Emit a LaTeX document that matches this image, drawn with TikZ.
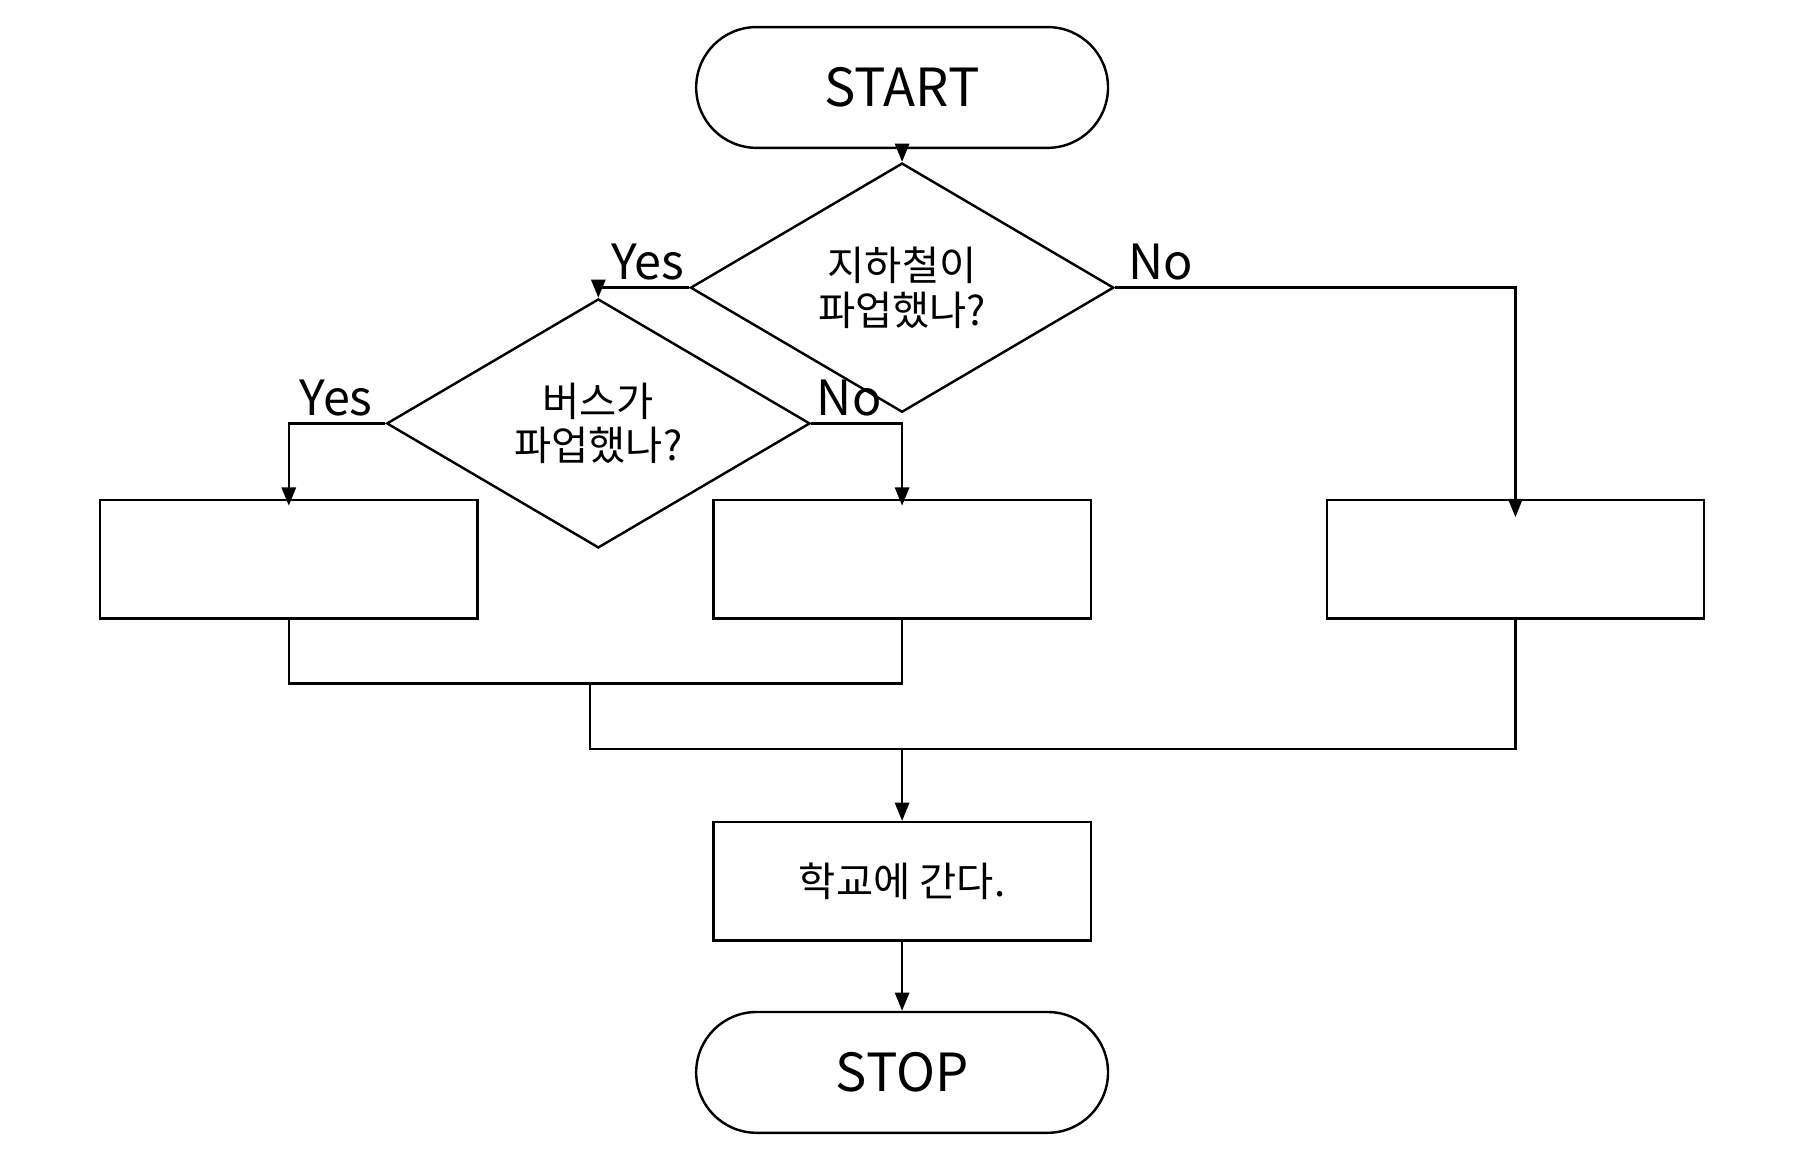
\documentclass[tikz,border=0pt]{standalone}
\usepackage{fontspec}
\setmainfont{Noto Sans CJK KR}
\usetikzlibrary{shapes.geometric,arrows.meta}
\begin{document}
\begin{tikzpicture}[x=0.02cm,y=-0.02cm,
  term/.style={draw,line width=1.2pt,rounded corners=1.05cm,minimum width=7.16cm,minimum height=2.1cm,inner sep=0pt,font=\fontsize{26}{30}\selectfont},
  proc/.style={draw,line width=1.2pt,minimum width=6.56cm,minimum height=2.06cm,inner sep=0pt,font=\fontsize{20}{24}\selectfont},
  dec/.style={draw,line width=1.2pt,diamond,minimum width=7.36cm,minimum height=2.58cm,inner sep=0pt,align=center,font=\fontsize{20}{22}\selectfont},
  lab/.style={font=\fontsize{24}{28}\selectfont},
  conn/.style={line width=1.2pt},
  arr/.style={conn,-{Triangle[length=9pt,width=7pt]}}]
\useasboundingbox (0,0) rectangle (1560,1003);
\node[term] (start) at (784,76) {START};
\node[dec] (d1) at (784,250) {지하철이\\파업했나?};
\node[dec] (d2) at (520,368) {버스가\\파업했나?};
\node[proc] (b1) at (251,486) {};
\node[proc] (b2) at (784,486) {};
\node[proc] (b3) at (1317,486) {};
\node[proc] (b4) at (784,766) {학교에 간다.};
\node[term] (stop) at (784,932) {STOP};
\node[lab] (y1) at (563,228) {Yes};
\node[lab] (n1) at (1009,228) {No};
\node[lab] (y2) at (292,346) {Yes};
\node[lab] (n2) at (738,346) {No};
\coordinate (m1) at (513,594);
\coordinate (m2) at (784,651);
\draw[arr] (start) -- (d1);
\draw[arr] (d1.west) -| (d2.north);
\draw[arr] (d1.east) -| ([yshift=-16*0.02cm]b3.north);
\draw[arr] (d2.west) -| ([yshift=-6*0.02cm]b1.north);
\draw[arr] (d2.east) -| ([yshift=-6*0.02cm]b2.north);
\draw[conn] (b1.south) |- (m1) -| (b2.south);
\draw[conn] (m1) |- (m2) -| (b3.south);
\draw[arr] (m2) -- (b4);
\draw[arr] (b4) -- (stop);
\end{tikzpicture}
\end{document}
